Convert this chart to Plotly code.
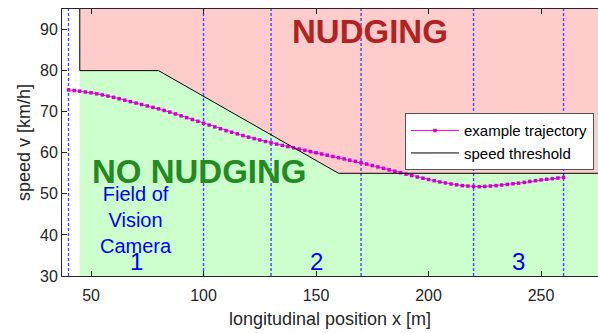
import plotly.graph_objects as go

# ---- data ----
traj_x = [40 + 2.5 * i for i in range(89)]
traj_v = [75.3, 75.15, 75.0, 74.8, 74.6, 74.35, 74.1, 73.8, 73.5, 73.15,
          72.8, 72.45, 72.1, 71.75, 71.4, 71.05, 70.7, 70.3, 69.9, 69.45,
          69.0, 68.55, 68.1, 67.65, 67.2, 66.75, 66.3, 65.85, 65.4, 65.0,
          64.6, 64.2, 63.8, 63.45, 63.1, 62.75, 62.4, 62.1, 61.8, 61.5,
          61.2, 60.9, 60.6, 60.3, 60.0, 59.7, 59.4, 59.1, 58.8, 58.5,
          58.2, 57.9, 57.6, 57.25, 56.9, 56.55, 56.2, 55.85, 55.5, 55.15,
          54.8, 54.45, 54.1, 53.8, 53.5, 53.2, 52.9, 52.65, 52.4, 52.2,
          52.0, 51.9, 51.8, 51.75, 51.8, 51.9, 52.0, 52.15, 52.3, 52.45,
          52.6, 52.8, 53.0, 53.2, 53.4, 53.55, 53.7, 53.85, 54.0]

thresh_x = [45, 80, 160, 280]
thresh_v = [80, 80, 55, 55]

zone_bounds = [40, 100, 130, 170, 220, 260]
zone_labels = ["1", "2", "3"]
zone_label_x = [70, 150, 240]

x_ticks = [50, 100, 150, 200, 250]
y_ticks = [30, 40, 50, 60, 70, 80, 90]
x_range = [37.1, 275.3]
y_range = [30, 95]

FONT = "Liberation Sans, Arial, sans-serif"
AX = "#262626"

fig = go.Figure()

# nudging (red) region: above threshold
red_x = [thresh_x[0]] + thresh_x + [thresh_x[-1]]
red_y = [y_range[1]] + thresh_v + [y_range[1]]
fig.add_trace(go.Scatter(x=red_x, y=red_y, fill="toself", fillcolor="#FFCCCC",
                         line=dict(width=0), mode="lines", showlegend=False,
                         hoverinfo="skip"))
# no nudging (green) region: below threshold
green_x = [thresh_x[0]] + thresh_x + [thresh_x[-1]]
green_y = [y_range[0]] + thresh_v + [y_range[0]]
fig.add_trace(go.Scatter(x=green_x, y=green_y, fill="toself", fillcolor="#CCFFCC",
                         line=dict(width=0), mode="lines", showlegend=False,
                         hoverinfo="skip"))

# zone boundaries (dashed blue), one trace each
for b in zone_bounds:
    fig.add_trace(go.Scatter(x=[b, b], y=[y_range[0], y_range[1]], mode="lines",
                             line=dict(color="#4848FF", width=1.4, dash="3px,2px"),
                             showlegend=False, hoverinfo="skip"))

# trajectory
fig.add_trace(go.Scatter(x=traj_x, y=traj_v, mode="lines+markers",
                         name="example trajectory",
                         line=dict(color="#FF00FF", width=1),
                         marker=dict(color="#D000D0", size=3.5, symbol="square")))

# speed threshold
fig.add_trace(go.Scatter(x=[thresh_x[0]] + thresh_x, y=[y_range[1]] + thresh_v,
                         mode="lines", name="speed threshold",
                         line=dict(color="black", width=1)))

ann = []
ann.append(dict(x=174, y=89.6, text="<b>NUDGING</b>", showarrow=False,
                font=dict(family=FONT, size=33, color="#B22222"),
                xanchor="center", yanchor="middle"))
ann.append(dict(x=98, y=55.5, text="<b>NO NUDGING</b>", showarrow=False,
                font=dict(family=FONT, size=33, color="#228B22"),
                xanchor="center", yanchor="middle"))
ann.append(dict(x=70, y=43.6, text="Field of<br>Vision<br>Camera", showarrow=False,
                font=dict(family=FONT, size=20, color="#0000FF"),
                xanchor="center", yanchor="middle"))
for lx, lt in zip(zone_label_x, zone_labels):
    ann.append(dict(x=lx, y=33.6, text=lt, showarrow=False,
                    font=dict(family=FONT, size=24, color="#0000FF"),
                    xanchor="center", yanchor="middle"))
# y-axis title as rotated annotation for exact placement
ann.append(dict(x=-0.0718, y=0.5, xref="paper", yref="paper",
                text="speed v [km/h]", textangle=-90, showarrow=False,
                font=dict(family=FONT, size=18, color=AX),
                xanchor="center", yanchor="middle"))

fig.update_layout(
    width=598, height=333,
    margin=dict(l=62, r=0, t=9, b=57),
    paper_bgcolor="white", plot_bgcolor="white",
    font=dict(family=FONT, color=AX),
    annotations=ann,
    showlegend=True,
    legend=dict(x=0.9925, y=0.503, xanchor="right", yanchor="middle",
                bgcolor="white", bordercolor="#555555", borderwidth=1,
                font=dict(family=FONT, size=15, color="black"),
                itemwidth=48, tracegroupgap=0),
)
fig.update_xaxes(range=x_range, tickvals=x_ticks, ticks="inside", ticklen=5,
                 tickcolor=AX, showline=True, linecolor=AX, linewidth=1,
                 mirror="ticks", showgrid=False, zeroline=False,
                 ticklabelstandoff=5,
                 tickfont=dict(family=FONT, size=16, color=AX),
                 title=dict(text="longitudinal position x [m]",
                            font=dict(family=FONT, size=18, color=AX), standoff=9))
fig.update_yaxes(range=y_range, tickvals=y_ticks, ticks="inside", ticklen=5,
                 tickcolor=AX, showline=True, linecolor=AX, linewidth=1,
                 mirror=False, showgrid=False, zeroline=False,
                 tickfont=dict(family=FONT, size=16, color=AX))

fig.write_html("out.html")
